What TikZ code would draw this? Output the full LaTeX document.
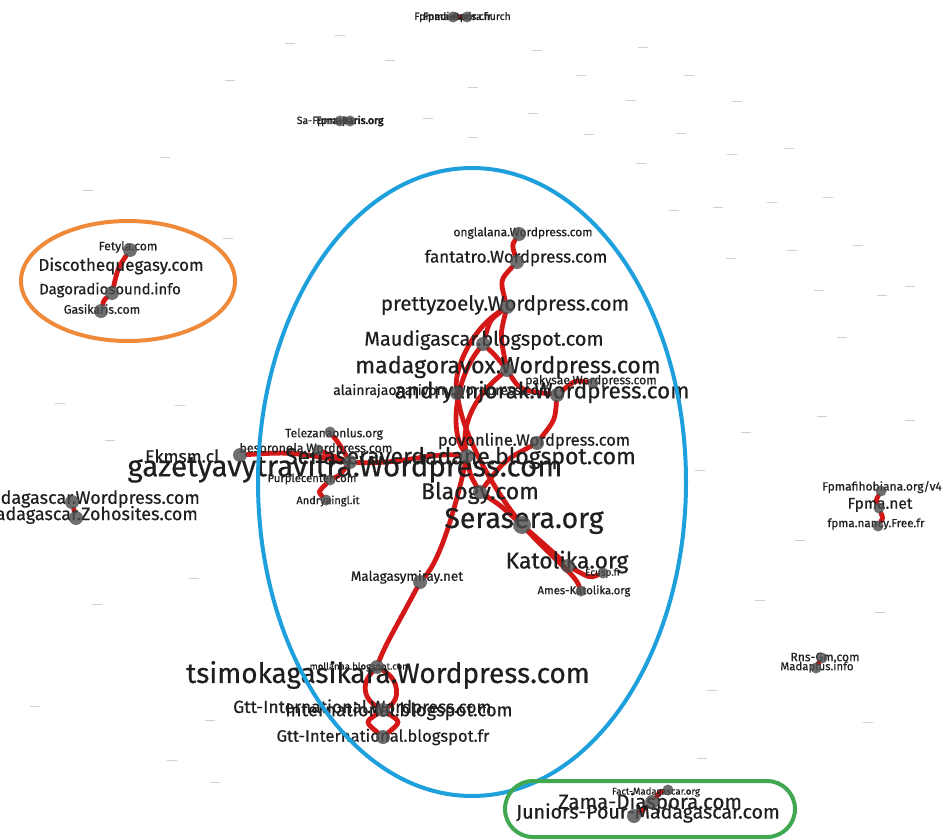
\documentclass[tikz,border=0pt]{standalone}
\usepackage{fontspec}
\setmainfont{Fira Sans}[FakeBold=0.5]
\usetikzlibrary{backgrounds}

\definecolor{linkred}{RGB}{212,24,24}
\definecolor{ringblue}{RGB}{30,160,220}
\definecolor{ringorange}{RGB}{238,138,58}
\definecolor{ringgreen}{RGB}{64,168,80}

\newcommand{\fs}[1]{\fontsize{#1}{#1}\selectfont}

\pgfdeclarelayer{edges}
\pgfdeclarelayer{labels}
\pgfsetlayers{background,edges,labels,main}

\tikzset{
  vtx/.style={circle, fill=black!70, fill opacity=0.8, inner sep=0pt, minimum size=14pt},
  small vtx/.style={vtx, minimum size=11pt},
  lbl/.style={text=black!88, inner sep=0pt},
  link/.style={draw=linkred, line width=4.8pt, line cap=round},
  dash mark/.style={draw=black!18, line width=0.8pt},
  ring/.style={line width=4pt}
}

\begin{document}
\begin{tikzpicture}[x=1pt, y=-1pt]

\useasboundingbox (0,0) rectangle (946,840);
\begin{scope}[on background layer]
  \fill[white] (0,0) rectangle (946,840);
\end{scope}
\clip (0,0) rectangle (946,840);

% faint isolated sites
\begin{pgfonlayer}{edges}
\foreach \p in {(290,43),(340,35),(390,60),(537,50),(473,87),(533,113),(428,118),(473,137),
  (643,47),(581,75),(689,75),(631,100),(737,101),(589,134),(681,133),(732,154),(789,148),
  (641,163),(674,210),(718,207),(772,202),(828,197),(731,258),(792,250),(858,245),(819,290),
  (882,295),(230,80),(165,157),(88,190),(228,238),(60,403),(180,405),(110,440),(97,604),
  (194,578),(35,706),(210,720),(215,782),(172,760),(712,690),(760,600),(702,758),(868,722),
  (880,612),(910,286),(842,337),(746,432),(822,416),(910,420),(800,540),(700,470)}
  \draw[dash mark] \p ++(-5,0) -- ++(10,0);
\end{pgfonlayer}

% Main group (blue)
\node[vtx] (ong) at (519,234) {};
\node[vtx] (fan) at (517,262) {};
\node[vtx] (pre) at (507,307) {};
\node[vtx] (mau) at (483,344) {};
\node[vtx] (mad) at (507,370) {};
\node[vtx] (and) at (557,395) {};
\node[small vtx] (pak) at (593,383) {};
\node[vtx] (ala) at (457,393) {};
\node[vtx] (pov) at (537,443) {};
\node[vtx] (sev) at (467,456) {};
\node[vtx] (bla) at (480,492) {};
\node[vtx, minimum size=18pt] (ser) at (522,525) {};
\node[vtx] (kat) at (568,566) {};
\node[small vtx] (usp) at (603,573) {};
\node[small vtx] (ame) at (581,591) {};
\node[vtx] (mal) at (420,582) {};
\node[vtx] (gaz) at (350,462) {};
\node[vtx] (ekm) at (240,455) {};
\node[small vtx] (tel) at (330,432) {};
\node[small vtx] (bes) at (318,450) {};
\node[small vtx] (pur) at (330,480) {};
\node[small vtx] (ady) at (326,500) {};
\node[vtx] (mol) at (377,667) {};
\node[vtx] (gtw) at (383,710) {};
\node[vtx] (gtf) at (383,737) {};

% Orange group
\node[vtx] (fet) at (130,250) {};
\node[vtx] (dgr) at (112,293) {};
\node[vtx] (gsk) at (101,311) {};

% Other pairs
\node[vtx] (mw) at (72,502) {};
\node[vtx] (mz) at (76,518) {};
\node[small vtx] (fpv) at (881,491) {};
\node[small vtx] (fpn) at (879,508) {};
\node[small vtx] (fpf) at (878,526) {};
\node[small vtx] (rns) at (822,658) {};
\node[small vtx] (mpl) at (816,668) {};
\node[small vtx] (fpa) at (453,17) {};
\node[small vtx] (fpb) at (467,17) {};
\node[small vtx] (saa) at (340,121) {};
\node[small vtx] (sab) at (350,121) {};

% Green group
\node[small vtx] (fct) at (668,790) {};
\node[vtx] (zam) at (652,802) {};
\node[vtx] (jun) at (634,816) {};

% labels
\begin{pgfonlayer}{labels}
\node[lbl, font=\fs{12}] (ong-t) at (523,233) {onglalana.Wordpress.com};
\node[lbl, font=\fs{17}] (fan-t) at (516,258) {fantatro.Wordpress.com};
\node[lbl, font=\fs{20.5}] (pre-t) at (505,305) {prettyzoely.Wordpress.com};
\node[lbl, font=\fs{20}] (mau-t) at (484,340) {Maudigascar.blogspot.com};
\node[lbl, font=\fs{23.2}] (mad-t) at (508,367) {madagoravox.Wordpress.com};
\node[lbl, font=\fs{14}, anchor=west] (ala-t) at (333,391) {alainrajaonarivony.Wordpress.com};
\node[lbl, font=\fs{22.5}] (and-t) at (542,392) {andryanjorak.Wordpress.com};
\node[lbl, font=\fs{12.2}] (pak-t) at (591,381) {pakysae.Wordpress.com};
\node[lbl, font=\fs{16.5}] (pov-t) at (534,441) {povonline.Wordpress.com};
\node[lbl, font=\fs{23}, anchor=east] (sev-t) at (636,458) {Senaseraverdadane.blogspot.com};
\node[lbl, font=\fs{17.5}, anchor=west] (ekm-t) at (145,456) {Ekmsm.cl};
\node[lbl, font=\fs{29.5}] (gaz-t) at (345,468) {gazetyavytravitra.Wordpress.com};
\node[lbl, font=\fs{12}] (tel-t) at (334,434) {Telezanaonlus.org};
\node[lbl, font=\fs{12.5}] (bes-t) at (316,449) {besoronola.Wordpress.com};
\node[lbl, font=\fs{11.3}] (pur-t) at (312,479) {Purplecenter.com};
\node[lbl, font=\fs{11}] (ady-t) at (328,501) {Andryaingl.it};
\node[lbl, font=\fs{23}] (bla-t) at (480,493) {Blaogy.com};
\node[lbl, font=\fs{28.5}] (ser-t) at (524,521) {Serasera.org};
\node[lbl, font=\fs{22.8}] (kat-t) at (567,562) {Katolika.org};
\node[lbl, font=\fs{10}] (usp-t) at (603,573) {Ecusp.fr};
\node[lbl, font=\fs{11.3}] (ame-t) at (584,591) {Ames-Katolika.org};
\node[lbl, font=\fs{13.5}] (mal-t) at (407,577) {Malagasymiray.net};
\node[lbl, font=\fs{9.5}] (mol-t) at (360,667) {mollanaa.blogspot.com};
\node[lbl, font=\fs{28}] (tsi-t) at (388,675) {tsimokagasikara.Wordpress.com};
\node[lbl, font=\fs{17.5}, anchor=west] (gtw-t) at (233,708) {Gtt-International.Wordpress.com};
\node[lbl, font=\fs{18.5}, anchor=west] (gtb-t) at (285,711) {International.blogspot.com};
\node[lbl, font=\fs{16.6}] (gtf-t) at (383,737) {Gtt-International.blogspot.fr};
\node[lbl, font=\fs{12.2}] (fet-t) at (128,247) {Fetyla.com};
\node[lbl, font=\fs{17}] (dis-t) at (121,266) {Discothequegasy.com};
\node[lbl, font=\fs{15}] (dgr-t) at (110,290) {Dagoradiosound.info};
\node[lbl, font=\fs{12.3}] (gsk-t) at (102,309) {Gasikaris.com};
\node[lbl, font=\fs{18}, anchor=east] (mw-t) at (200,499) {Madagascar.Wordpress.com};
\node[lbl, font=\fs{18}, anchor=east] (mz-t) at (198,515) {Madagascar.Zohosites.com};
\node[lbl, font=\fs{12}] (fpv-t) at (882,487) {Fpmafihobiana.org/v4};
\node[lbl, font=\fs{15.5}] (fpn-t) at (880,505) {Fpma.net};
\node[lbl, font=\fs{11.7}] (fpf-t) at (876,524) {fpma.nancy.Free.fr};
\node[lbl, font=\fs{12.2}] (rns-t) at (825,657) {Rns-Gm.com};
\node[lbl, font=\fs{11.4}] (mpl-t) at (817,667) {Madaplus.info};
\node[lbl, font=\fs{9.6}] (fct-t) at (656,792) {Fact-Madagascar.org};
\node[lbl, font=\fs{20.5}] (zam-t) at (650,803) {Zama-Diaspora.com};
\node[lbl, font=\fs{19.6}] (jun-t) at (648,813) {Juniors-Pour-Madagascar.com};
\node[lbl, font=\fs{10.5}] (fpa-t) at (453,17) {Fpmadiaspora.fr};
\node[lbl, font=\fs{10.5}] (fpb-t) at (467,17) {Fpma-Paris.church};
\node[lbl, font=\fs{10.5}] (saa-t) at (340,121) {Sa-Fpma-Paris.org};
\node[lbl, font=\fs{10.5}] (sab-t) at (350,121) {Fpmaparis.org};
\end{pgfonlayer}

% links
\begin{pgfonlayer}{edges}
\draw[link] (ong) .. controls (512,245) .. (fan);
\draw[link] (fan) .. controls (500,280) .. (pre);
\draw[link] (pre) .. controls (490,320) .. (mau);
\draw[link] (pre) .. controls (500,335) .. (mad);
\draw[link] (pre) .. controls (470,330) and (455,370) .. (ala);
\draw[link] (mau) .. controls (495,355) .. (mad);
\draw[link] (mau) .. controls (455,380) and (450,430) .. (sev);
\draw[link] (mad) .. controls (520,390) .. (and);
\draw[link] (and) .. controls (575,380) .. (pak);
\draw[link] (and) .. controls (555,420) .. (pov);
\draw[link] (pov) .. controls (505,460) .. (bla);
\draw[link] (mad) .. controls (470,400) and (462,430) .. (sev);
\draw[link] (ala) .. controls (465,440) and (495,490) .. (ser);
\draw[link] (sev) .. controls (470,475) .. (bla);
\draw[link] (bla) .. controls (500,505) .. (ser);
\draw[link] (ser) .. controls (545,545) .. (kat);
\draw[link] (kat) .. controls (590,578) .. (usp);
\draw[link] (ser) .. controls (555,560) and (575,575) .. (ame);
\draw[link] (sev) .. controls (455,510) and (440,560) .. (mal);
\draw[link] (mal) .. controls (400,620) and (385,645) .. (mol);
\draw[link] (ekm) .. controls (290,452) .. (gaz);
\draw[link] (gaz) .. controls (400,465) and (430,452) .. (sev);
\draw[link] (tel) .. controls (340,445) .. (gaz);
\draw[link] (bes) .. controls (330,455) .. (gaz);
\draw[link] (gaz) .. controls (340,475) .. (pur);
\draw[link] (pur) .. controls (318,492) .. (ady);
\draw[link] (mol) .. controls (360,685) and (365,700) .. (gtw);
\draw[link] (mol) .. controls (400,680) and (400,700) .. (gtw);
\draw[link] (gtw) .. controls (365,722) .. (gtf);
\draw[link] (gtw) .. controls (401,722) .. (gtf);
\draw[link] (fet) .. controls (118,268) .. (dgr);
\draw[link] (dgr) .. controls (104,300) .. (gsk);
\draw[link] (mw) -- (mz);
\draw[link] (fpv) .. controls (876,500) .. (fpn);
\draw[link] (fpn) .. controls (883,518) .. (fpf);
\draw[link] (rns) -- (mpl);
\draw[link] (fct) .. controls (660,792) .. (zam);
\draw[link] (zam) .. controls (640,812) .. (jun);
\draw[link] (fpa) -- (fpb);
\draw[link] (saa) -- (sab);
\end{pgfonlayer}

% groups
\draw[ring, ringblue] (472,482) ellipse [x radius=214, y radius=314];
\draw[ring, ringorange] (128,281) ellipse [x radius=107, y radius=60];
\draw[ring, ringgreen, rounded corners=28pt] (505,781) rectangle (795,837);

\end{tikzpicture}
\end{document}
